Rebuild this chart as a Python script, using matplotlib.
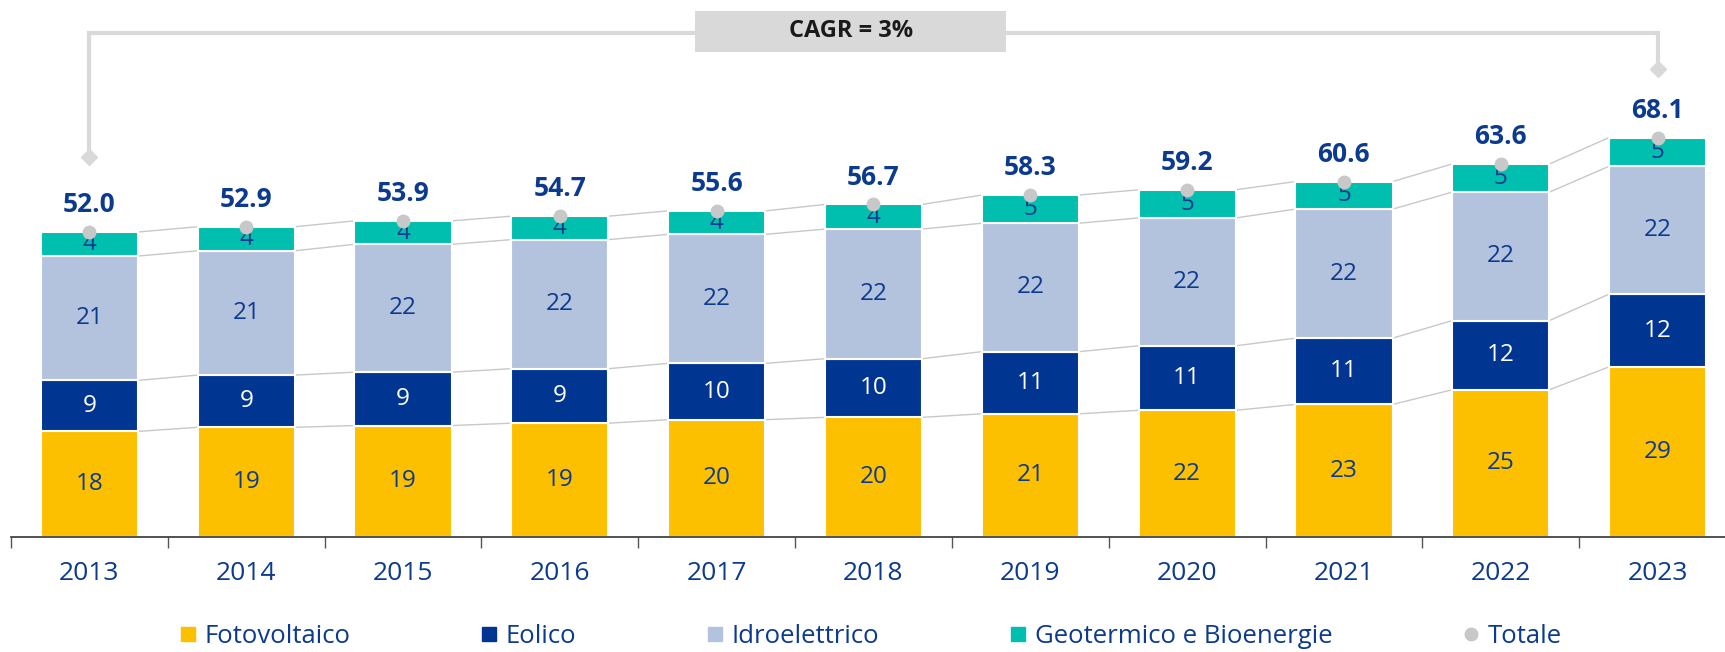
"""
Capacità rinnovabile installata per fonte, 2013-2023
"""

import matplotlib
matplotlib.use("Agg")
import matplotlib.pyplot as plt
from matplotlib.lines import Line2D
from matplotlib.patches import Rectangle

# Dati
years = ['2013', '2014', '2015', '2016', '2017', '2018', '2019', '2020', '2021', '2022', '2023']
fotovoltaico = [18.0, 18.7, 19.0, 19.4, 20.0, 20.4, 21.0, 21.6, 22.6, 25.1, 29.0]
eolico = [8.7, 8.9, 9.1, 9.3, 9.6, 10.0, 10.6, 11.0, 11.3, 11.8, 12.4]
idroelettrico = [21.2, 21.2, 21.8, 22.0, 22.0, 22.1, 21.9, 21.8, 22.0, 21.9, 21.8]
geotermico = [4.1, 4.1, 4.0, 4.0, 4.0, 4.2, 4.8, 4.8, 4.7, 4.8, 4.9]
totale = [52.0, 52.9, 53.9, 54.7, 55.6, 56.7, 58.3, 59.2, 60.6, 63.6, 68.1]
series_names = ['Fotovoltaico', 'Eolico', 'Idroelettrico', 'Geotermico e Bioenergie']
cagr_label = 'CAGR = 3%'

# Stile
NAVY = '#0B3A8E'
colors = ['#FDC000', '#003591', '#B4C3DD', '#00BFAE']
label_colors = [NAVY, 'white', NAVY, NAVY]
GREY = '#C8C8C8'
BRACKET = '#D9D9D9'
BAR_W = 0.62

plt.rcParams['font.family'] = ['Open Sans', 'DejaVu Sans']

fig = plt.figure(figsize=(17.25, 6.52), dpi=100)
ax = fig.add_axes([11 / 1725, 0.1764, 1 - 11 / 1725, 0.8236])

x = list(range(len(years)))
series = [fotovoltaico, eolico, idroelettrico, geotermico]

bottom = [0.0] * len(years)
tops = []
for vals, col, lcol, name in zip(series, colors, label_colors, series_names):
    ax.bar(x, vals, BAR_W, bottom=bottom, color=col, edgecolor='white',
           linewidth=1.5, label=name, zorder=2)
    for i, v in enumerate(vals):
        ax.text(i, bottom[i] + v / 2, f"{v:.0f}", ha='center', va='center',
                fontsize=17.5, color=lcol, zorder=4)
    bottom = [b + v for b, v in zip(bottom, vals)]
    tops.append(list(bottom))

# Linee di collegamento tra le barre
for level in tops:
    for i in range(len(years) - 1):
        ax.plot([i + BAR_W / 2, i + 1 - BAR_W / 2], [level[i], level[i + 1]],
                color=GREY, linewidth=1.0, zorder=1)

# Totali
ax.plot(x, totale, linestyle='none', marker='o', markersize=9,
        color=GREY, zorder=5, label='Totale')
for i, t in enumerate(totale):
    ax.text(i, t + 3.4, f"{t:.1f}", ha='center', va='baseline', fontsize=19,
            fontweight='bold', color=NAVY, zorder=5)

# Parentesi CAGR
y_line = 85.9
ax.plot([0, 0, x[-1], x[-1]], [64.8, y_line, y_line, 79.8], color=BRACKET,
        linewidth=3, solid_joinstyle='miter', zorder=1, clip_on=False)
ax.plot([0, x[-1]], [64.8, 79.8], linestyle='none', marker='D', markersize=8,
        color=BRACKET, zorder=1, clip_on=False)
ax.add_patch(Rectangle((3.864, 82.7), 1.983, 7.0, facecolor=BRACKET,
                       edgecolor='none', zorder=2, clip_on=False))
ax.text(4.855, 86.2, cagr_label, ha='center', va='center', fontsize=17,
        fontweight='bold', color='#1A1A1A', zorder=3)

# Assi
ax.set_xlim(-0.5, 10.43)
ax.set_ylim(0, 91.56)
ax.set_yticks([])
for side in ['top', 'right', 'left']:
    ax.spines[side].set_visible(False)
ax.spines['bottom'].set_color('#333333')
ax.spines['bottom'].set_linewidth(1.2)
ax.set_xticks([i - 0.5 for i in x])
ax.set_xticklabels([])
ax.set_xticks(x, minor=True)
ax.set_xticklabels(years, minor=True, fontsize=19, color=NAVY)
ax.tick_params(axis='x', which='major', direction='out', length=8,
               color='#555555', width=1)
ax.tick_params(axis='x', which='minor', length=0, pad=17)

# Legenda
handles = [Line2D([], [], linestyle='none', marker='s', markersize=10,
                  color=c) for c in colors]
handles.append(Line2D([], [], linestyle='none', marker='o', markersize=9,
                      color=GREY))
fig.legend(handles, series_names + ['Totale'], loc='lower center',
           bbox_to_anchor=(0.505, -0.031), ncol=5, frameon=False,
           fontsize=18.5, labelcolor=NAVY, handlelength=0.6,
           handletextpad=0.35, columnspacing=5.1)

fig.savefig('out.png', dpi=100)
